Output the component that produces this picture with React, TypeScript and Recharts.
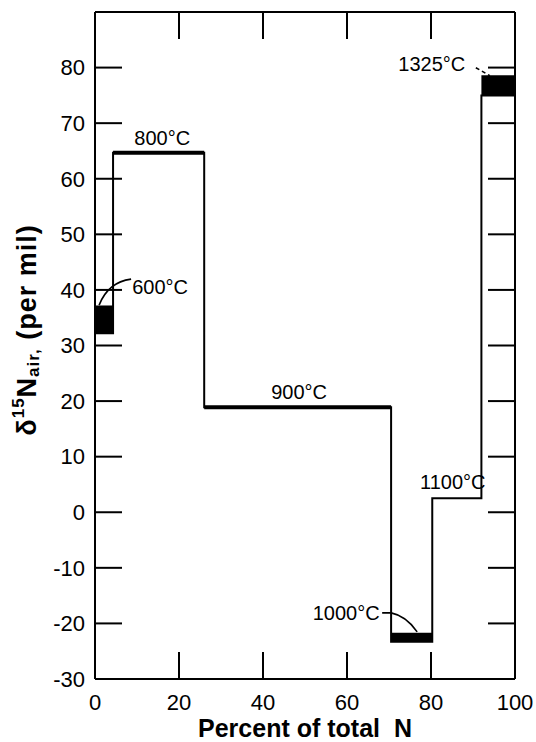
import { ComposedChart, Line, XAxis, YAxis, ReferenceArea, ReferenceDot } from 'recharts';

const xTicks = [0, 20, 40, 60, 80, 100];
const yTicks = [-30, -20, -10, 0, 10, 20, 30, 40, 50, 60, 70, 80];

// heating steps: % of total N released (start/end) and d15N band (low/high)
const stepStart = [0, 4.3, 26, 70.5, 80.3, 92];
const stepEnd = [4.3, 26, 70.5, 80.3, 92, 100];
const stepLow = [32.2, 64.7, 18.9, -23.3, 2.5, 75.0];
const stepHigh = [37.2, 64.7, 18.9, -21.7, 2.5, 78.6];

const tempLabels = ['600°C', '800°C', '900°C', '1000°C', '1100°C', '1325°C'];
const labelX = [15.5, 16, 48.6, 59.8, 85.2, 80.2];
const labelY = [40.5, 67.4, 21.6, -18.1, 5.4, 80.7];

const FONT = 'Liberation Sans';
const Y_MIN = -30;
const Y_MAX = 90;
const TOP = 12;
const TICK_LEN = 27;

const outline = stepStart.flatMap((s, i) => [
    { x: s, y: stepLow[i] },
    { x: stepEnd[i], y: stepLow[i] },
]);

// flat steps get a heavier stroke, gaps between them
const flats = stepStart.flatMap((s, i) =>
    stepLow[i] === stepHigh[i] && i !== 4
        ? [{ x: s, y: stepLow[i] }, { x: stepEnd[i], y: stepLow[i] }, { x: stepEnd[i], y: null }]
        : []
);

const leaders: Record<string, { d: string; dash?: string }> = {
    '600°C': { d: 'M -29 -8 Q -52 -5 -61 18' },
    '1000°C': { d: 'M 36 0 L 45 0 Q 60 3 71 19' },
    '1325°C': { d: 'M 44 4 L 58 12', dash: '4 3' },
};

const TempLabel = ({ cx, cy, text }: { cx: number; cy: number; text: string }) => {
    const leader = leaders[text];
    return (
        <g>
            <text x={cx} y={cy} textAnchor='middle' dominantBaseline='central'
                fontSize={20} fontFamily={FONT} fill='#000'>{text}</text>
            {leader && (
                <path d={leader.d} transform={`translate(${cx},${cy})`} fill='none'
                    stroke='#000' strokeWidth={1.6} strokeDasharray={leader.dash} />
            )}
        </g>
    );
};

// short inward tick on the top or bottom frame, anchored at the frame point
const FrameTick = ({ cx, cy, dir }: { cx: number; cy: number; dir: number }) => (
    <rect x={cx - 1} y={dir > 0 ? cy : cy - TICK_LEN} width={2} height={TICK_LEN} fill='#000' />
);

const yTitle = () => (
    <text transform='translate(27,330) rotate(-90)' textAnchor='middle' dominantBaseline='central'
        fontFamily={FONT} fontWeight='bold' fontSize={27} letterSpacing={1} fill='#000'>
        δ<tspan dy={-9} fontSize={17}>15</tspan>
        <tspan dy={9}>N</tspan>
        <tspan dy={6} fontSize={17}>air,</tspan>
        <tspan dy={-6}> (per mil)</tspan>
    </text>
);

const xTitle = (props: any) => {
    const vb = props.viewBox ?? { x: 95, width: 420 };
    return (
        <text x={vb.x + vb.width / 2} y={728} textAnchor='middle' dominantBaseline='central'
            fontFamily={FONT} fontWeight='bold' fontSize={25} fill='#000' style={{ whiteSpace: 'pre' }}>
            Percent of total  N
        </text>
    );
};

const noTick = () => <g />;
const tickStyle = { fill: '#000', fontSize: 22, fontFamily: FONT };
const lineStyle = { stroke: '#000', strokeWidth: 2 };

export default function App() {
    const innerX = xTicks.filter((t) => t > 0 && t < 100);
    return (
        <div style={{ position: 'absolute', left: 0, top: 0, background: '#fff' }}>
            <ComposedChart width={536} height={742} margin={{ top: TOP, right: 21, bottom: 0, left: 0 }}>
                <XAxis type='number' dataKey='x' domain={[0, 100]} ticks={xTicks} interval={0}
                    height={63} tickLine={false} tickSize={0} tickMargin={15} stroke='#000'
                    axisLine={lineStyle} tick={tickStyle} label={xTitle} />
                <XAxis xAxisId='top' orientation='top' mirror type='number' dataKey='x' domain={[0, 100]}
                    ticks={xTicks} interval={0} tick={noTick} tickLine={false} stroke='#000'
                    axisLine={lineStyle} />
                <YAxis type='number' domain={[Y_MIN, Y_MAX]} ticks={yTicks} interval={0} width={95}
                    tickLine={false} tickSize={0} tickMargin={10} stroke='#000'
                    axisLine={lineStyle} tick={tickStyle} label={yTitle} />
                <YAxis yAxisId='leftIn' mirror type='number' domain={[Y_MIN, Y_MAX]} ticks={yTicks}
                    interval={0} tick={noTick} tickSize={TICK_LEN} stroke='#000'
                    tickLine={lineStyle} axisLine={false} />
                <YAxis yAxisId='right' orientation='right' mirror type='number' domain={[Y_MIN, Y_MAX]}
                    ticks={yTicks} interval={0} tick={noTick} tickSize={TICK_LEN} stroke='#000'
                    tickLine={lineStyle} axisLine={lineStyle} />

                {/* invisible copies so the inner tick axes get a domain */}
                <Line data={outline} dataKey='y' xAxisId='top' yAxisId='right' stroke='none'
                    dot={false} isAnimationActive={false} />
                <Line data={outline} dataKey='y' yAxisId='leftIn' stroke='none'
                    dot={false} isAnimationActive={false} />

                {stepStart.map((s, i) =>
                    stepHigh[i] > stepLow[i] ? (
                        <ReferenceArea key={'b' + i} x1={s} x2={stepEnd[i]} y1={stepLow[i]} y2={stepHigh[i]}
                            fill='#000' fillOpacity={1} stroke='none' />
                    ) : null
                )}

                <Line data={outline} dataKey='y' type='linear' stroke='#000' strokeWidth={2}
                    dot={false} isAnimationActive={false} />
                <Line data={flats} dataKey='y' type='linear' stroke='#000' strokeWidth={4}
                    dot={false} connectNulls={false} isAnimationActive={false} />

                {innerX.map((t) => (
                    <ReferenceDot key={'fb' + t} x={t} y={Y_MIN} r={0} ifOverflow='visible'
                        shape={(p: any) => <FrameTick cx={p.cx} cy={p.cy} dir={-1} />} />
                ))}
                {innerX.map((t) => (
                    <ReferenceDot key={'ft' + t} x={t} y={Y_MAX} r={0} ifOverflow='visible'
                        shape={(p: any) => <FrameTick cx={p.cx} cy={p.cy} dir={1} />} />
                ))}

                {tempLabels.map((t, i) => (
                    <ReferenceDot key={t} x={labelX[i]} y={labelY[i]} r={0}
                        shape={(p: any) => <TempLabel cx={p.cx} cy={p.cy} text={t} />} />
                ))}
            </ComposedChart>
        </div>
    );
}
